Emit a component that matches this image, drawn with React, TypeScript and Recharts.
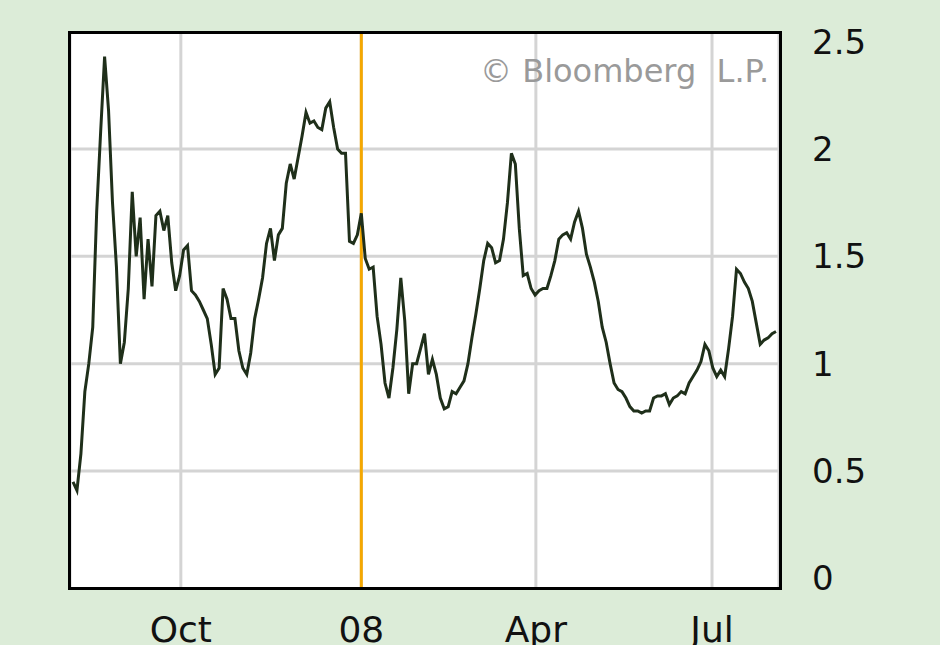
import React from "react";
import { LineChart, Line, XAxis, YAxis, CartesianGrid, ReferenceLine } from "recharts";

const valuesAutumn = [
  0.45, 0.41, 0.58, 0.87, 1.0, 1.17, 1.71, 2.08, 2.43, 2.18,
  1.75, 1.45, 1.0, 1.1, 1.35, 1.8, 1.5, 1.68,
  1.3, 1.58, 1.36, 1.69, 1.71, 1.62, 1.69, 1.47, 1.34, 1.41,
  1.53, 1.55, 1.34, 1.32, 1.29, 1.25, 1.21, 1.09, 0.95, 0.98,
  1.35, 1.3, 1.21, 1.21, 1.06, 0.98, 0.95, 1.05, 1.21, 1.3,
  1.4, 1.56, 1.63, 1.48, 1.6, 1.63, 1.84, 1.93, 1.86, 1.96,
  2.06, 2.17, 2.12, 2.13, 2.1, 2.09, 2.19, 2.22, 2.1, 2.0,
  1.98, 1.98, 1.57, 1.56, 1.6, 1.7, 1.49, 1.44, 1.45,
];
const values2008 = [
  1.22, 1.09, 0.91, 0.84, 0.98, 1.16, 1.4, 1.2, 0.86, 1.0,
  1.0, 1.07, 1.14, 0.95, 1.02, 0.95, 0.84, 0.79, 0.8, 0.87,
  0.86, 0.89, 0.92, 1.0, 1.12, 1.23, 1.35, 1.48, 1.56, 1.54,
  1.47, 1.48, 1.58, 1.75, 1.98, 1.93, 1.63, 1.41, 1.42, 1.35,
  1.32, 1.34, 1.35, 1.35, 1.41, 1.48, 1.58, 1.6, 1.61, 1.58,
  1.66, 1.71, 1.63, 1.51, 1.45, 1.38, 1.29, 1.17, 1.1, 1.0,
  0.91, 0.88, 0.87, 0.84, 0.8, 0.78, 0.78, 0.77, 0.78, 0.78,
  0.84, 0.85, 0.85, 0.86, 0.81, 0.84, 0.85, 0.87, 0.86, 0.91,
  0.94, 0.97, 1.01, 1.09, 1.06, 0.98, 0.94, 0.97, 0.94, 1.07,
  1.22, 1.44, 1.42, 1.38, 1.35, 1.29, 1.19, 1.09, 1.11, 1.12,
  1.14, 1.15,
];
const monthTicks = [27.3, 73, 117.2, 161.8];
const monthLabels = ["Oct", "08", "Apr", "Jul"];
const yTicks = [0, 0.5, 1, 1.5, 2, 2.5];
const gridValues = [0.5, 1, 1.5, 2];
const yearStart = 73;

const data = [...valuesAutumn, ...values2008].map((v, i) => ({ i, v }));

const font = "'DejaVu Sans', sans-serif";

const YTick = (props: any) => {
  const { x, y, payload } = props;
  return (
    <text x={x + 25} y={y + 12} fontSize={34} fontFamily={font} fill="#111" textAnchor="start">
      {String(payload.value)}
    </text>
  );
};

const XTick = (props: any) => {
  const { x, y, payload } = props;
  const idx = monthTicks.indexOf(payload.value);
  return (
    <text x={x} y={y + 47} fontSize={36} fontFamily={font} fill="#111" textAnchor="middle">
      {monthLabels[idx]}
    </text>
  );
};

export default function App() {
  return (
    <div style={{ position: "fixed", left: 0, top: 0, width: 940, height: 645, background: "#dcecd8", overflow: "hidden" }}>
      <LineChart width={940} height={645} data={data} margin={{ top: 33, right: 31, left: 70, bottom: 8 }}>
        <CartesianGrid stroke="#d4d4d4" strokeWidth={3} fill="#ffffff" horizontalValues={gridValues} />
        <XAxis
          dataKey="i"
          type="number"
          domain={[-0.76, 178.76]}
          ticks={monthTicks}
          tick={<XTick />}
          tickLine={false}
          axisLine={false}
          height={50}
          interval={0}
        />
        <YAxis
          orientation="right"
          domain={[-0.04, 2.54]}
          ticks={yTicks}
          tick={<YTick />}
          tickLine={false}
          axisLine={false}
          width={130}
          allowDataOverflow
        />
        <ReferenceLine x={yearStart} stroke="#f5a800" strokeWidth={3} />
        <Line type="linear" dataKey="v" stroke="#1f2f1a" strokeWidth={3} dot={false} isAnimationActive={false} />
      </LineChart>
      <div style={{ position: "absolute", left: 480, top: 52, fontFamily: font, fontSize: 32, color: "#9a9a9a", whiteSpace: "pre" }}>
        {"© Bloomberg  L.P."}
      </div>
      <div style={{ position: "absolute", left: 68, top: 31, width: 708, height: 553, border: "3px solid #000" }} />
    </div>
  );
}
